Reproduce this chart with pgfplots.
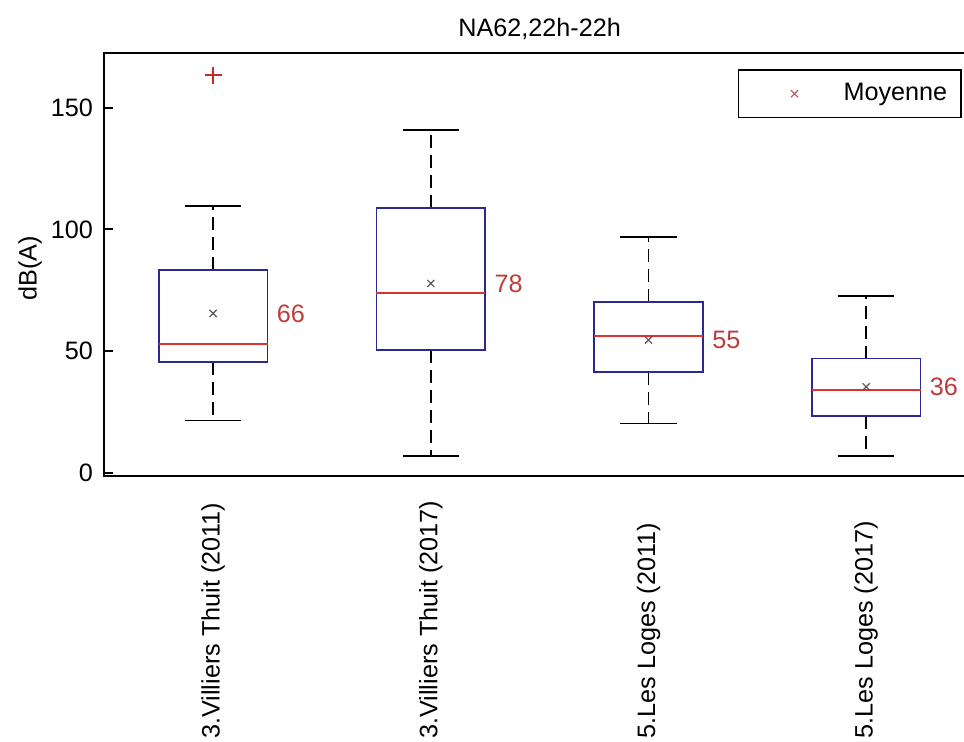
\documentclass[border=0pt]{standalone}
\usepackage{fontspec}
\setmainfont{Liberation Sans}
\usepackage{pgfplots}
\pgfplotsset{compat=1.18}
\definecolor{boxblue}{RGB}{40,40,150}
\definecolor{medred}{RGB}{220,50,50}
\definecolor{labred}{RGB}{190,60,60}
\definecolor{meangray}{RGB}{90,80,90}
\definecolor{legred}{RGB}{200,90,110}
\definecolor{outred}{RGB}{200,40,40}
\begin{document}
\begin{tikzpicture}[font=\fontsize{12.6}{15}\selectfont]
\begin{axis}[
  at={(0,0)}, anchor=south west,
  scale only axis, width=435.35pt, height=211.35pt,
  xmin=0.5, xmax=4.5, ymin=-1.36, ymax=172.4,
  axis line style={black, line width=1pt},
  unbounded coords=jump,
  xtick={1,2,3,4},
  xticklabels={3.Villiers Thuit (2011),3.Villiers Thuit (2017),5.Les Loges (2011),5.Les Loges (2017)},
  x tick style={draw=none},
  xticklabel style={rotate=90, anchor=west, inner sep=0pt},
  xticklabel shift=131.5pt,
  ytick={0,50,100,150},
  ytick pos=left,
  y tick style={black, line width=1pt},
  major tick length=4.5pt,
  yticklabel style={inner sep=0pt, xshift=-5.5pt},
  /pgf/number format/assume math mode=true,
  ylabel={dB(A)},
  ylabel style={at={(axis description cs:-0.0853,0.492)}, anchor=center},
  title={NA62,22h-22h},
  every axis title shift=0pt,
  title style={at={(axis description cs:0.5,1)}, anchor=base, yshift=8.6pt},
  legend style={at={(axis description cs:0.9847,0.9621)}, anchor=north east,
    draw=black, line width=0.75pt, inner sep=0pt, nodes={inner sep=0pt}},
  legend image code/.code={%
    \path[draw=none, fill=none] (0pt,-11.85pt) rectangle (52.5pt,11.85pt);
    \draw[#1] plot[only marks] coordinates {(28pt,0pt)};
  },
]
\addlegendimage{legred, mark=x, mark size=2.5pt, mark options={solid, line width=0.6pt}}
\addlegendentry{Moyenne\rule{6.85pt}{0pt}}

% whiskers (dashed): quartile -> whisker end
\addplot[black, line width=0.8pt, dash pattern=on 6.5pt off 3.5pt, forget plot] coordinates {
  (1,83.3) (1,109.7) (1,nan) (1,45.4) (1,21.5) (1,nan)
  (2,108.9) (2,140.8) (2,nan) (2,50.4) (2,6.9) (2,nan)
  (3,70.3) (3,96.8) (3,nan) (3,41.3) (3,20.3) (3,nan)
  (4,46.9) (4,72.7) (4,nan) (4,23.3) (4,6.9)
};
% whisker caps
\addplot[black, line width=0.8pt, forget plot] coordinates {
  (0.87,109.7) (1.13,109.7) (1,nan) (0.87,21.5) (1.13,21.5) (1,nan)
  (1.87,140.8) (2.13,140.8) (2,nan) (1.87,6.9) (2.13,6.9) (2,nan)
  (2.87,96.8) (3.13,96.8) (3,nan) (2.87,20.3) (3.13,20.3) (3,nan)
  (3.87,72.7) (4.13,72.7) (4,nan) (3.87,6.9) (4.13,6.9)
};
% boxes (lower quartile to upper quartile)
\addplot[boxblue, line width=0.85pt, line cap=rect, forget plot] coordinates {
  (0.75,45.4) (1.25,45.4) (1.25,83.3) (0.75,83.3) (0.75,45.4) (1,nan)
  (1.75,50.4) (2.25,50.4) (2.25,108.9) (1.75,108.9) (1.75,50.4) (2,nan)
  (2.75,41.3) (3.25,41.3) (3.25,70.3) (2.75,70.3) (2.75,41.3) (3,nan)
  (3.75,23.3) (4.25,23.3) (4.25,46.9) (3.75,46.9) (3.75,23.3)
};
% medians
\addplot[medred, line width=0.85pt, forget plot] coordinates {
  (0.75,52.8) (1.25,52.8) (1,nan)
  (1.75,73.8) (2.25,73.8) (2,nan)
  (2.75,56.2) (3.25,56.2) (3,nan)
  (3.75,34.0) (4.25,34.0)
};

% outlier
\addplot[only marks, mark=+, mark size=4.25pt, outred, mark options={line width=0.75pt}, forget plot]
  coordinates {(1,163.4)};

% means
\addplot[only marks, mark=x, mark size=2.5pt, meangray, mark options={line width=0.6pt}, forget plot]
  coordinates {(1,65.5) (2,77.8) (3,54.5) (4,35.3)};

% mean labels
\addplot[draw=none, forget plot, point meta=explicit symbolic, nodes near coords,
  nodes near coords style={anchor=west, inner sep=0pt, xshift=4.5pt, text=labred}]
  coordinates {(1.25,65.5)[66] (2.25,77.8)[78] (3.25,54.5)[55] (4.25,35.3)[36]};
\end{axis}
\pgfresetboundingbox
\path[use as bounding box] (-52.15pt,-133pt) rectangle (429.85pt,238pt);
\end{tikzpicture}
\end{document}
